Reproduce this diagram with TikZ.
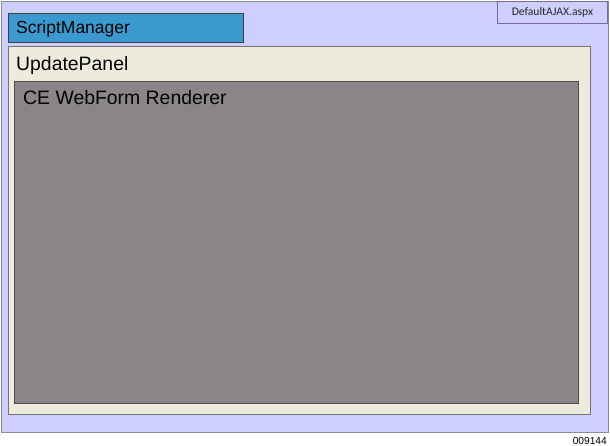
\documentclass[tikz,border=0pt]{standalone}
\usepackage{fontspec}
\setmainfont{Liberation Sans}
\newfontfamily\calibrifont{Carlito}
\usetikzlibrary{positioning}
\definecolor{pagebg}{HTML}{CFCFFF}
\definecolor{smblue}{HTML}{3A9AD0}
\definecolor{upcream}{HTML}{EDEBDC}
\definecolor{rendgray}{HTML}{8A8589}
\definecolor{aspxedge}{HTML}{7A6A9E}

\begin{document}
\begin{tikzpicture}[x=1pt, y=-1pt,
                    box/.style={draw, rectangle, inner sep=0pt, line width=.8pt},
                    lbl/.style={anchor=base west, inner sep=0pt, font=\fontsize{19.4}{22}\selectfont}]
  \useasboundingbox (0,0) rectangle (610,446);

  \node[box, draw=black!45, fill=pagebg, minimum width=607pt, minimum height=431pt, anchor=north west] (page) at (1,1) {};
  \node[box, draw=aspxedge, fill=pagebg, minimum width=110pt, minimum height=22pt, anchor=north west] (aspx) at (497,1) {};
  \node[anchor=center, inner sep=0pt, text=black!85, font=\calibrifont\fontsize{11.6}{13}\selectfont] (aspxtxt) at (aspx.center) {DefaultAJAX.aspx};

  \node[box, draw=black!75, fill=smblue, minimum width=235pt, minimum height=29pt, anchor=north west] (sm) at (8,13) {};
  \node[lbl, font=\fontsize{17.5}{20}\selectfont] (smtxt) at (16,34) {ScriptManager};

  \node[box, draw=black!55, fill=upcream, minimum width=582pt, minimum height=368pt, anchor=north west] (upd) at (8,46) {};
  \node[lbl] (updtxt) at (16,71) {UpdatePanel};

  \node[box, draw=black!70, fill=rendgray, minimum width=564pt, minimum height=322pt, anchor=north west] (rend) at (14,81) {};
  \node[lbl] (rendtxt) at (23,105) {CE WebForm Renderer};

  \node[anchor=base east, inner sep=0pt, font=\fontsize{10.2}{12}\selectfont] (fig) at (607,444) {009144};
\end{tikzpicture}
\end{document}
